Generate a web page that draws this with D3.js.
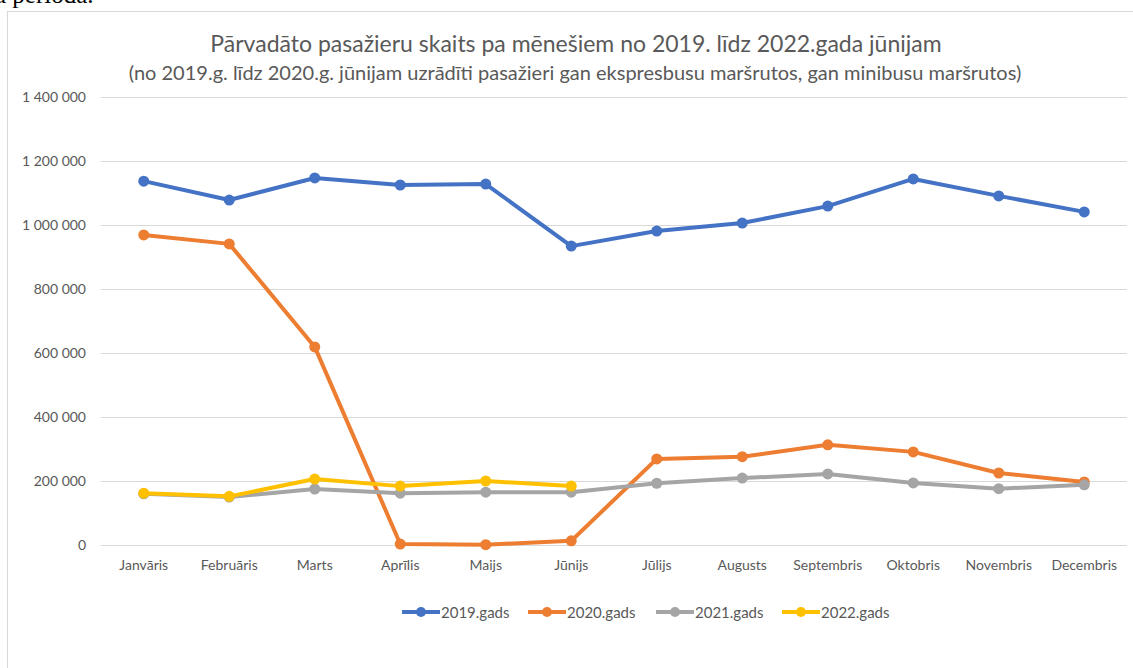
<!DOCTYPE html>
<html>
<head>
  <meta charset="utf-8">
  <title>Pasažieru skaits</title>
  <script src="https://cdnjs.cloudflare.com/ajax/libs/d3/7.8.5/d3.min.js"></script>
  <style>
    html, body {
      margin: 0;
      padding: 0;
      background: #fff;
      overflow: hidden;
    }
    svg text {
      font-family: Lato, 'Open Sans', sans-serif;
      fill: #595959;
    }
  </style>
</head>
<body>
  <svg id="chart" width="1133" height="668"></svg>
  <script>
    const months = ['Janvāris', 'Februāris', 'Marts', 'Aprīlis', 'Maijs', 'Jūnijs',
      'Jūlijs', 'Augusts', 'Septembris', 'Oktobris', 'Novembris', 'Decembris']
    const years = ['2019.gads', '2020.gads', '2021.gads', '2022.gads']
    const colors = ['#4472C4', '#ED7D31', '#A5A5A5', '#FFC000']

    const v2019 = [1137000, 1078000, 1147000, 1125000, 1128000, 934000, 981000, 1006000, 1059000, 1144000, 1091000, 1041000]
    const v2020 = [969000, 941000, 619000, 3000, 1000, 13000, 269000, 276000, 313000, 291000, 225000, 197000]
    const v2021 = [160000, 150000, 175000, 162000, 165000, 165000, 193000, 209000, 222000, 194000, 176000, 188000]
    const v2022 = [162000, 152000, 206000, 184000, 200000, 184000]
    const yTicks = [0, 200000, 400000, 600000, 800000, 1000000, 1200000, 1400000]

    const title = 'Pārvadāto pasažieru skaits pa mēnešiem no 2019. līdz 2022.gada jūnijam'
    const subtitle = '(no 2019.g. līdz 2020.g. jūnijam uzrādīti pasažieri gan ekspresbusu maršrutos, gan minibusu maršrutos)'

    const series = [v2019, v2020, v2021, v2022]

    const svg = d3.select('#chart')
    const margin = { left: 101, right: 6, top: 97, bottom: 123 }
    const width = 1133, height = 668

    // page text cut off above the chart
    svg.append('text')
      .attr('x', -5).attr('y', 3)
      .style('font-family', "'Liberation Serif', serif")
      .style('font-size', '25px')
      .style('fill', '#000')
      .text('a periodā.')

    // chart frame
    svg.append('rect')
      .attr('x', 7.5).attr('y', 11.5)
      .attr('width', 1140).attr('height', 680)
      .attr('fill', '#fff')
      .attr('stroke', '#d9d9d9')

    const x = d3.scaleBand()
      .domain(months)
      .range([margin.left, width - margin.right])

    const y = d3.scaleLinear()
      .domain([0, 1400000])
      .range([height - margin.bottom, margin.top])

    const fmt = v => d3.format(',')(v).replace(/,/g, ' ')

    const yAxis = svg.append('g')
      .attr('transform', `translate(${margin.left},0)`)
      .call(d3.axisLeft(y).tickValues(yTicks).tickFormat(fmt)
        .tickSize(-(width - margin.left - margin.right)).tickPadding(15))
    yAxis.select('.domain').remove()
    yAxis.selectAll('line').attr('stroke', '#d9d9d9')
    yAxis.selectAll('text').style('font-size', '14px').style('fill', '#595959')

    const xAxis = svg.append('g')
      .attr('transform', `translate(0,${height - margin.bottom})`)
      .call(d3.axisBottom(x).tickSize(0).tickPadding(15))
    xAxis.select('.domain').remove()
    xAxis.selectAll('text').style('font-size', '14px').style('fill', '#595959')

    const cx = m => x(m) + x.bandwidth() / 2
    const line = d3.line()
      .x((d, i) => cx(months[i]))
      .y(d => y(d))

    series.forEach((vals, s) => {
      const g = svg.append('g')
      g.append('path')
        .datum(vals)
        .attr('fill', 'none')
        .attr('stroke', colors[s])
        .attr('stroke-width', 4)
        .attr('stroke-linejoin', 'round')
        .attr('stroke-linecap', 'round')
        .attr('d', line)
      g.selectAll('circle')
        .data(vals)
        .join('circle')
        .attr('cx', (d, i) => cx(months[i]))
        .attr('cy', d => y(d))
        .attr('r', 5.5)
        .attr('fill', colors[s])
    })

    svg.append('text')
      .attr('x', 576).attr('y', 52)
      .attr('text-anchor', 'middle')
      .style('font-size', '23px')
      .text(title)

    svg.append('text')
      .attr('x', 575).attr('y', 80)
      .attr('text-anchor', 'middle')
      .style('font-size', '20px')
      .text(subtitle)

    // legend
    const legendX = [402, 528, 656, 782]
    const legend = svg.append('g')
      .selectAll('g')
      .data(years)
      .join('g')
      .attr('transform', (d, i) => `translate(${legendX[i]},612)`)
    legend.append('line')
      .attr('x1', 0).attr('x2', 38)
      .attr('stroke', (d, i) => colors[i])
      .attr('stroke-width', 4)
    legend.append('circle')
      .attr('cx', 19).attr('r', 5)
      .attr('fill', (d, i) => colors[i])
    legend.append('text')
      .attr('x', 39).attr('y', 5.5)
      .style('font-size', '15px')
      .text(d => d)
  </script>
</body>
</html>
